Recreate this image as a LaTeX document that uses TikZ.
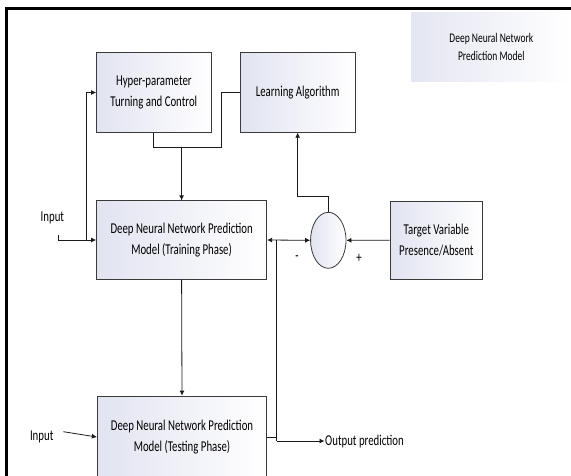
\documentclass[tikz,border=0pt]{standalone}
\usepackage{fontspec}
\setmainfont{Carlito}[FakeStretch=0.72]
\usetikzlibrary{arrows.meta,shapes.geometric}
\definecolor{boxedge}{HTML}{3A3A3A}
\definecolor{boxtint}{HTML}{E1E3F0}
\definecolor{wire}{HTML}{1A1A1A}
\newcommand{\mainsz}{\fontsize{15}{21}\selectfont}
\newcommand{\legsz}{\fontsize{13.2}{18.3}\selectfont}
\begin{document}
\begin{tikzpicture}[x=1pt,y=-1pt,
  blk/.style={draw=boxedge, line width=0.8pt, left color=boxtint, right color=white,
              align=center, inner sep=0pt, font=\mainsz},
  sumnode/.style={ellipse, draw=boxedge, line width=0.8pt, left color=boxtint,
              right color=white, inner sep=0pt, minimum width=35.4pt, minimum height=56pt},
  legendbox/.style={left color=boxtint!90, right color=white, align=center,
              inner sep=0pt, font=\legsz, minimum width=159.5pt, minimum height=68.7pt},
  lbl/.style={inner sep=0.5pt, font=\mainsz},
  wirestyle/.style={draw=wire, line width=0.8pt},
  arr/.style={wirestyle, -{Latex[length=5pt,width=5pt]}},
  dblarr/.style={wirestyle, {Latex[length=5pt,width=5pt]}-{Latex[length=5pt,width=5pt]}}]
\useasboundingbox (0,0) rectangle (571,475);
\clip (0,0) rectangle (571,475);

% page frame: heavy rule along the left and top edges
\draw[line width=2.6pt] (6.3,476) -- (6.3,8.2) -- (572,8.2);

% legend
\node[legendbox] (legend) at (491.3,46.7) {Deep Neural Network\\Prediction Model};

% blocks
\node[blk, minimum width=114.7pt, minimum height=79.6pt] (hyper) at (153.85,92.5)
  {Hyper-parameter\\Turning and Control};
\node[blk, minimum width=114.7pt, minimum height=79.6pt] (learn) at (297.65,92.5)
  {Learning Algorithm};
\node[blk, minimum width=170.2pt, minimum height=78.5pt] (train) at (181.6,240)
  {Deep Neural Network Prediction\\Model (Training Phase)};
\node[blk, minimum width=92.7pt, minimum height=78.3pt] (target) at (436.35,240.15)
  {Target Variable\\Presence/Absent};
\node[sumnode] (sum) at (328.3,240.3) {};
\node[blk, minimum width=169.4pt, minimum height=82pt] (test) at (182,437)
  {Deep Neural Network Prediction\\Model (Testing Phase)};

% labels
\node[lbl] (in1) at (52.4,218.3) {Input};
\node[lbl] (in2) at (41.7,437.3) {Input};
\node[lbl, anchor=west] (outp) at (324.5,441) {Output prediction};
\node[lbl] (minus) at (297,257.7) {-};
\node[lbl] (plus) at (359,258.3) {+};

% training input and feedback to the hyper-parameter block
\coordinate (in1s) at (58.3,235);
\draw[arr] (in1s) |- (train.west);
\coordinate (fb) at (86.7,240);
\draw[arr] (fb) |- (hyper.west);

% hyper-parameter / learning algorithm bus into the training block
\coordinate (hb) at (221.4,147.3);
\draw[wirestyle] (hyper.south) |- (hb) |- (learn.west);
\draw[arr] (train.north |- hb) -- (train.north);

% error path through the comparator
\draw[arr] (sum.north) -- ++(0,-15.6) -| (learn.south);
\draw[dblarr] (train.east) -- (sum.west);
\draw[arr] (target.west) -- (sum.east);

% prediction output
\coordinate (tap) at (276.7,240);
\coordinate (outc) at (276.7,441);
\draw[wirestyle] (tap) -- (outc);
\draw[wirestyle] (test.east) -- (test.east -| tap);
\draw[arr] (outc) -- (outp.west);

% training to testing, and testing input
\draw[arr] (train.south) -- (test.north);
\coordinate (in2s) at (63.3,431.7);
\draw[arr] (in2s) -- (test.west);
\end{tikzpicture}
\end{document}
